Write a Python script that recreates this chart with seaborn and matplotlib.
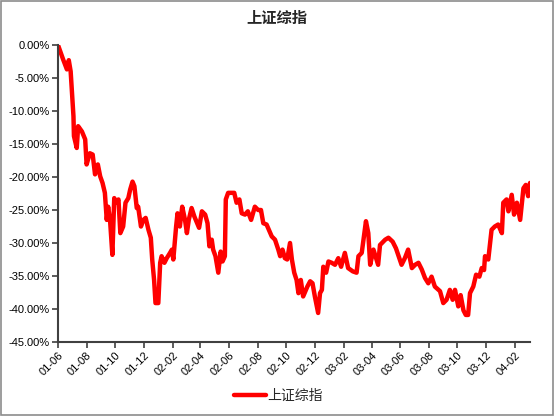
import matplotlib
matplotlib.use("Agg")
import matplotlib.pyplot as plt
import matplotlib.dates as mdates
from matplotlib.ticker import FuncFormatter
from matplotlib.patches import Rectangle
import seaborn as sns
import pandas as pd

sns.set_theme(style="white")
plt.rcParams['font.family'] = ['Liberation Sans', 'Noto Sans CJK SC', 'DejaVu Sans']

series_name = "上证综指"
start_date = "2001-06-14"
day_offset = [0, 1, 11, 19, 23, 27, 33, 34, 40, 43, 51, 58, 61, 68, 74, 79, 85, 90, 95, 100,
              104, 107, 111, 116, 120, 125, 129, 133, 139, 144, 150, 154, 159, 163, 168, 171,
              177, 182, 187, 193, 198, 201, 205, 208, 214, 218, 221, 227, 232, 239, 243, 246,
              252, 255, 260, 265, 271, 275, 279, 285, 291, 301, 307, 314, 319, 323, 328, 331,
              336, 342, 347, 351, 356, 358, 363, 376, 381, 387, 392, 399, 405, 412, 420, 427,
              433, 438, 445, 450, 456, 463, 470, 474, 479, 484, 489, 495, 499, 504, 509, 513,
              518, 523, 532, 538, 543, 548, 555, 559, 563, 566, 572, 577, 584, 591, 598, 604,
              612, 619, 629, 637, 641, 648, 657, 662, 666, 673, 683, 687, 698, 705, 714, 721,
              733, 740, 747, 755, 762, 769, 776, 783, 790, 797, 804, 815, 822, 829, 836, 842,
              847, 854, 859, 865, 870, 875, 879, 886, 892, 899, 904, 909, 911, 918, 925, 932,
              939, 947, 950, 957, 961, 968, 973, 979, 986, 993, 998, 1003, 1007]
returns_pct = [0.0, -0.2, -2.2, -3.7, -2.3, -4.0, -10.8, -13.8, -15.6, -12.3, -13.1, -14.3, -18.1,
               -16.4, -16.6, -19.6, -18.1, -19.9, -20.9, -22.4, -26.5, -24.5, -26.5, -31.8, -23.2,
               -23.9, -23.4, -28.5, -27.5, -23.9, -23.2, -21.9, -20.7, -21.4, -24.7, -24.5, -27.5,
               -26.5, -26.2, -28.0, -29.2, -32.5, -35.6, -39.1, -39.1, -33.0, -32.0, -33.0, -32.3,
               -31.5, -31.0, -32.5, -27.5, -25.5, -27.5, -24.5, -26.5, -28.5, -26.5, -24.7, -26.0,
               -27.7, -25.2, -25.7, -27.0, -30.5, -29.5, -31.0, -32.0, -34.5, -31.3, -32.8, -32.0,
               -23.4, -22.4, -22.4, -23.9, -23.4, -25.5, -25.7, -25.2, -26.5, -24.5, -25.0, -25.0,
               -27.0, -27.2, -28.0, -29.0, -29.5, -31.0, -32.0, -31.0, -32.3, -32.5, -30.0, -32.5,
               -34.5, -35.6, -37.6, -35.6, -38.1, -36.6, -35.8, -36.1, -38.1, -40.6, -37.6, -37.1,
               -33.6, -34.5, -32.8, -33.0, -33.3, -32.3, -33.6, -31.5, -33.8, -34.3, -34.5, -32.0,
               -31.5, -26.7, -28.5, -33.3, -31.0, -33.3, -30.3, -29.5, -29.2, -29.8, -30.8, -33.3,
               -32.3, -31.0, -33.8, -33.3, -33.0, -34.0, -35.3, -36.1, -35.1, -36.6, -37.3, -39.1,
               -38.6, -37.1, -38.6, -37.1, -39.6, -37.9, -40.2, -40.9, -40.9, -37.6, -36.6, -34.8,
               -35.1, -33.8, -34.1, -32.0, -32.5, -28.0, -27.5, -27.2, -28.5, -23.9, -23.4, -25.2,
               -22.7, -25.7, -23.9, -26.5, -21.7, -21.2, -22.9, -20.9]
y_ticks_pct = [0, -5, -10, -15, -20, -25, -30, -35, -40, -45]

t0 = pd.Timestamp(start_date)
df = pd.DataFrame({
    "date": t0 + pd.to_timedelta(day_offset, unit="D"),
    "value": [v / 100 for v in returns_pct],
})

fig = plt.figure(figsize=(5.55, 4.16), dpi=100)
ax = fig.add_axes([58 / 555, 1 - 342 / 416, (530 - 58) / 555, (342 - 45) / 416])

sns.lineplot(data=df, x="date", y="value", ax=ax, color="#FF0000", linewidth=3.2,
             label=series_name, legend=False)

ax.set_ylim(-0.45, 0.0)
ax.set_yticks([v / 100 for v in y_ticks_pct])
ax.yaxis.set_major_formatter(FuncFormatter(lambda v, p: f"{v*100:.2f}%"))
ax.set_xlim(t0, t0 + pd.Timedelta(days=day_offset[-1]))
xt = pd.date_range(t0, periods=17, freq=pd.DateOffset(months=2))
ax.set_xticks(xt)
ax.set_xticklabels([d.strftime("%y-%m") for d in xt], rotation=45, ha="right",
                   rotation_mode="anchor")

ax.set_xlabel("")
ax.set_ylabel("")
for s in ["top", "right"]:
    ax.spines[s].set_visible(False)
for s in ["left", "bottom"]:
    ax.spines[s].set_color("#404040")
    ax.spines[s].set_linewidth(1.5)
ax.tick_params(axis="both", which="major", direction="out", length=4, width=1.2,
               color="#404040", labelsize=8, labelcolor="black", left=True, bottom=True, pad=2)
ax.grid(False)

fig.text(277 / 555, 1 - 19 / 416, series_name, ha="center", va="center",
         fontsize=11, fontweight="bold")

handles, labels = ax.get_legend_handles_labels()
fig.legend(handles, labels, loc="center", bbox_to_anchor=(278 / 555, 1 - 396 / 416),
           frameon=False, fontsize=10, handlelength=2.3, handletextpad=0.1,
           borderaxespad=0)

fig.patches.append(Rectangle((0.002, 0.002), 0.995, 0.995, transform=fig.transFigure,
                             fill=False, edgecolor="#8c8c8c", linewidth=1.2))

fig.savefig("out.png", dpi=100)
